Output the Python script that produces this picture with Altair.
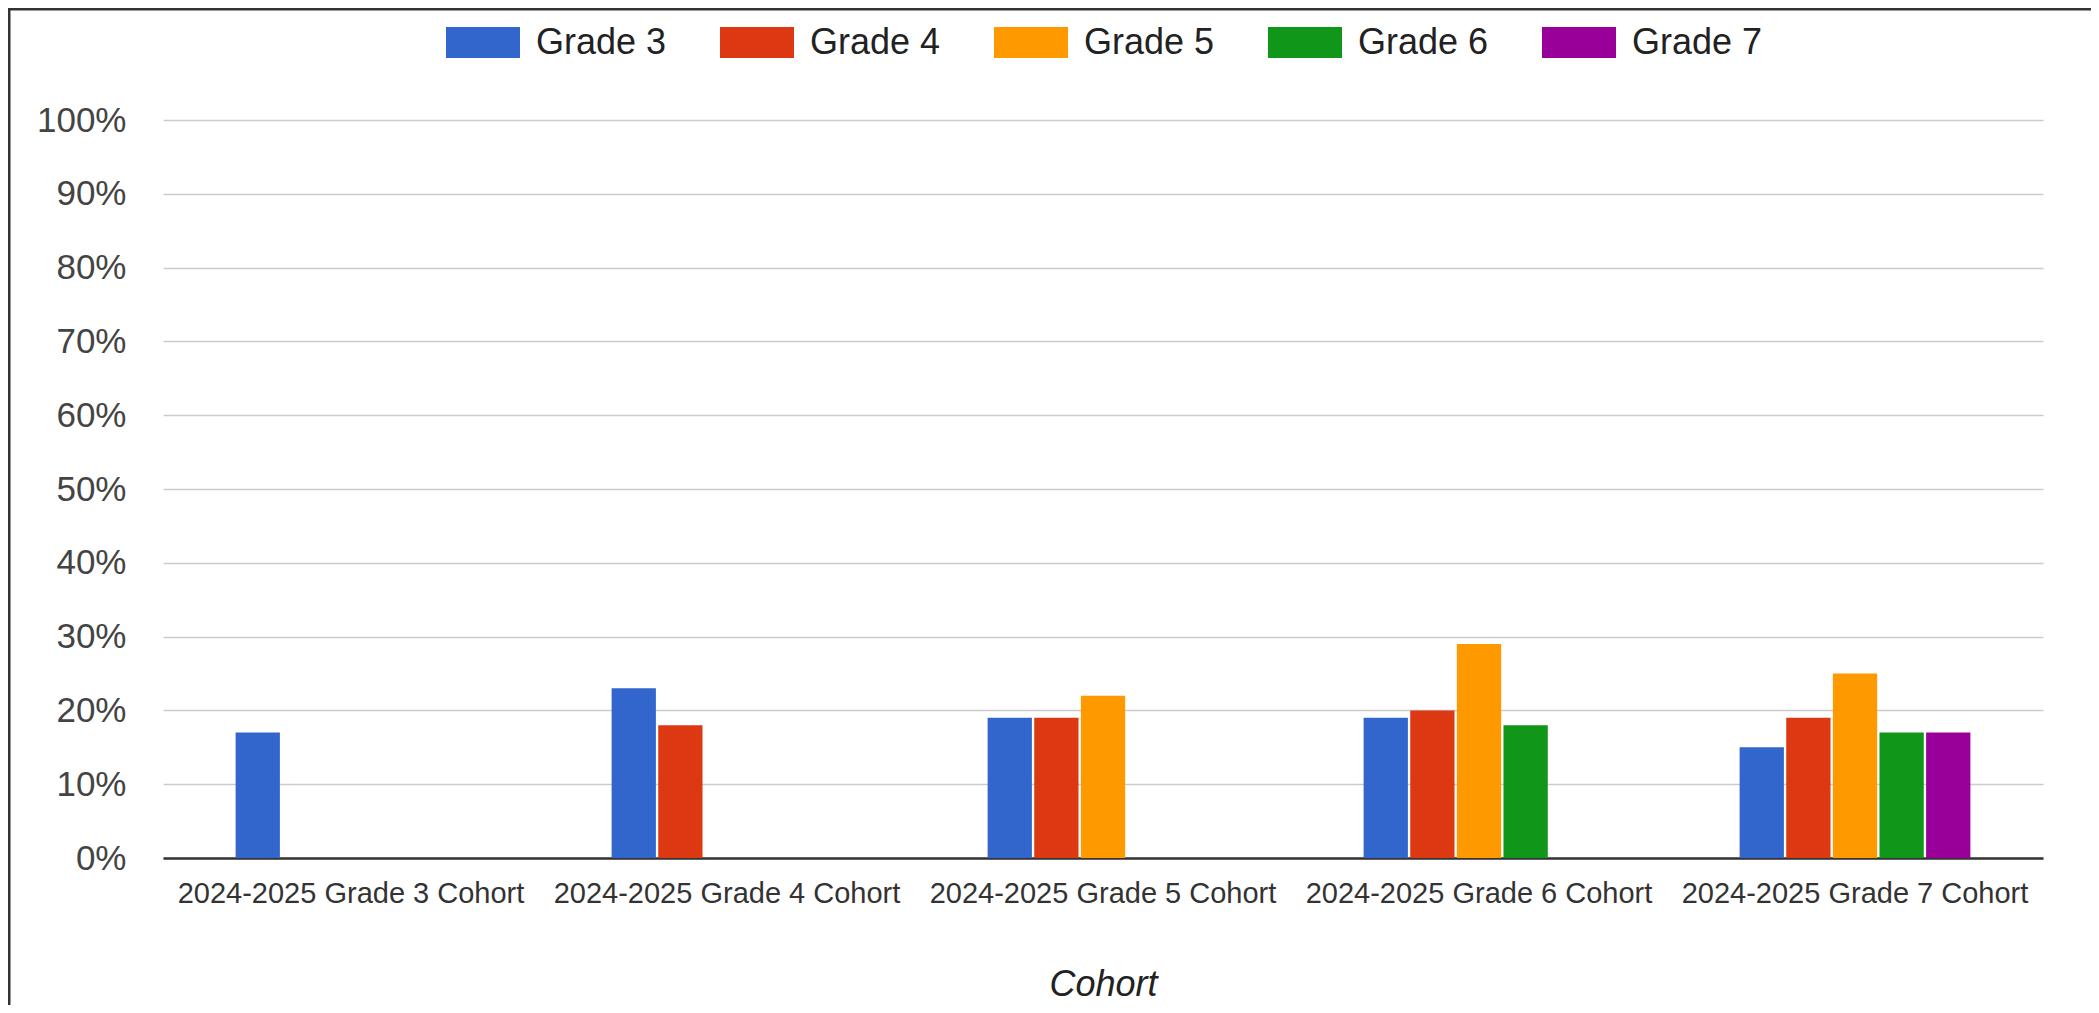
import altair as alt
import pandas as pd

cohorts = [
    "2024-2025 Grade 3 Cohort",
    "2024-2025 Grade 4 Cohort",
    "2024-2025 Grade 5 Cohort",
    "2024-2025 Grade 6 Cohort",
    "2024-2025 Grade 7 Cohort",
]
grades = ["Grade 3", "Grade 4", "Grade 5", "Grade 6", "Grade 7"]
colors = ["#3366cc", "#dc3912", "#ff9900", "#109618", "#990099"]

grade3 = [17, 23, 19, 19, 15]
grade4 = [None, 18, 19, 20, 19]
grade5 = [None, None, 22, 29, 25]
grade6 = [None, None, None, 18, 17]
grade7 = [None, None, None, None, 17]
y_ticks = [0, 10, 20, 30, 40, 50, 60, 70, 80, 90, 100]

series = dict(zip(grades, [grade3, grade4, grade5, grade6, grade7]))
rows = []
for g, vals in series.items():
    for c, v in zip(cohorts, vals):
        if v is not None:
            rows.append({"cohort": c, "grade": g, "value": v})
df = pd.DataFrame(rows)

FONT = "Liberation Sans"

bars = alt.Chart(df).mark_bar().encode(
    x=alt.X(
        "cohort:N",
        sort=cohorts,
        scale=alt.Scale(domain=cohorts, paddingInner=0.38, paddingOuter=0.19),
        axis=alt.Axis(
            title="Cohort",
            labelAngle=0,
            labelFontSize=29,
            labelPadding=21,
            labelColor="#333333",
            labelLimit=0,
            ticks=False,
            tickSize=0,
            domainColor="#333333",
            domainWidth=2.5,
            grid=False,
            titleFontSize=36,
            titleFontStyle="italic",
            titleFontWeight="normal",
            titleColor="#222222",
            titleY=137,
            titleBaseline="alphabetic",
        ),
    ),
    xOffset=alt.XOffset(
        "grade:N",
        scale=alt.Scale(domain=grades, paddingInner=0.05, paddingOuter=0.025),
    ),
    y=alt.Y(
        "value:Q",
        scale=alt.Scale(domain=[0, 100], nice=False),
        axis=alt.Axis(
            values=y_ticks,
            labelExpr="datum.value + '%'",
            title=None,
            domain=False,
            ticks=False,
            tickSize=0,
            labelFontSize=35,
            labelPadding=37,
            labelColor="#444444",
            gridColor="#cccccc",
            gridWidth=1.6,
        ),
    ),
    color=alt.Color(
        "grade:N",
        scale=alt.Scale(domain=grades, range=colors),
        legend=alt.Legend(
            title=None,
            orient="none",
            legendX=283,
            legendY=-114.5,
            direction="horizontal",
            symbolType="M-1,-0.42L1,-0.42L1,0.42L-1,0.42Z",
            symbolSize=5476,
            symbolStrokeWidth=0,
            symbolOpacity=1,
            labelFontSize=36,
            labelOffset=16,
            labelColor="#222222",
            columnPadding=53,
            padding=0,
        ),
    ),
)

frame_data = alt.Data(values=[{"k": 1}])
left_line = alt.Chart(frame_data).mark_rule(color="#333333", strokeWidth=3).encode(
    x=alt.value(-154), y=alt.value(-112), y2=alt.value(890)
)
top_line = alt.Chart(frame_data).mark_rule(color="#333333", strokeWidth=3).encode(
    x=alt.value(-155), x2=alt.value(1930), y=alt.value(-111)
)

chart = (
    alt.layer(bars, left_line, top_line)
    .properties(
        width=1880,
        height=738,
        padding={"left": 155, "top": 112, "right": 48, "bottom": 147},
        autosize=alt.AutoSizeParams(type="none"),
        background="white",
    )
    .configure_view(stroke=None)
    .configure_axis(labelFont=FONT, titleFont=FONT)
    .configure_legend(labelFont=FONT)
)

chart.save("out.html", embed_options={"renderer": "svg", "actions": False})
